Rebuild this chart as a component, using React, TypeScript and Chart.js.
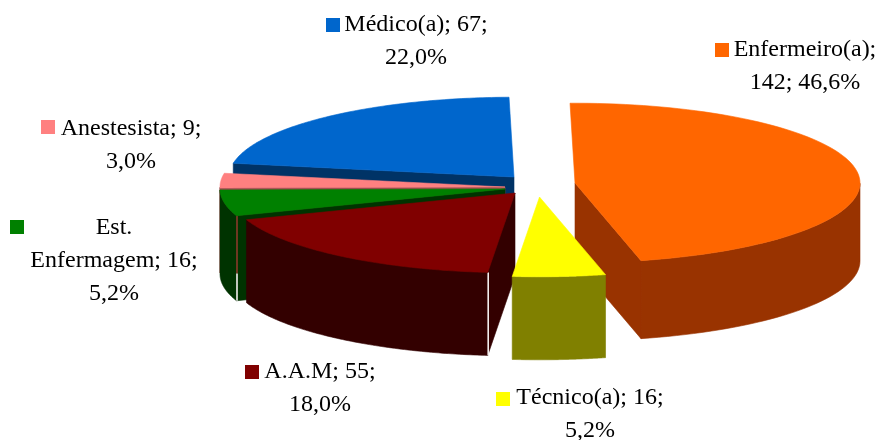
import React, { useEffect, useRef } from "react";
import { Chart, registerables } from "chart.js";

Chart.register(...registerables);

// Staff counts per role
const categories = ["Enfermeiro(a)", "Técnico(a)", "A.A.M", "Est. Enfermagem", "Anestesista", "Médico(a)"];
const counts = [142, 16, 55, 16, 9, 67];

// Slice colours: top face and side wall
const topColors = ["#FF6600", "#FFFF00", "#800000", "#008000", "#FF8080", "#0066CC"];
const wallColors = ["#993300", "#808000", "#330000", "#003300", "#994D4D", "#003366"];

// Exploded slice placement relative to the pie centre, and extrusion depth
const shiftX = [135.5, 100, 75.5, 65.5, 65.5, 74.5];
const shiftY = [-37, -23, -27, -31, -33, -43];
const depths = [78, 83, 83, 85, 85, 78];
const paintOrder = [5, 4, 3, 2, 0, 1];
const TILT = 0.28;
const RADIUS = 285;
const ARC_STEPS = 90;
const FACING_LIMIT = 0.05;

// Thin seams on the front of some slices: [slice, share of depth, colour]
const seams: [number, number, number, string][] = [
  [2, 0, 1, "#F2ECEC"],
  [3, 0, 0.68, "#8A3A2A"],
  [3, 0.68, 1, "#F2ECEC"],
];

// Label layout: centre x, first line y, swatch position
const labelX = [805, 590, 320, 114, 131, 416];
const labelY = [50, 398, 372, 228, 129, 25];
const swatchX = [715, 496, 245, 10, 41, 326];
const swatchY = [43, 392, 365, 220, 120, 18];
const LINE_HEIGHT = 33;
const SWATCH = 14;

type Pt = [number, number];

const total = counts.reduce((a, b) => a + b, 0);
const percent = (v: number) => ((v / total) * 100).toFixed(1).replace(".", ",") + "%";

function labelLines(i: number): string[] {
  const v = counts[i];
  const name = categories[i];
  if (i === 0) return [`${name};`, `${v}; ${percent(v)}`];
  if (i === 3) return ["Est.", `Enfermagem; ${v};`, percent(v)];
  return [`${name}; ${v};`, percent(v)];
}

function fillPolygon(ctx: CanvasRenderingContext2D, pts: Pt[], color: string) {
  ctx.beginPath();
  pts.forEach(([x, y], k) => (k ? ctx.lineTo(x, y) : ctx.moveTo(x, y)));
  ctx.closePath();
  ctx.fillStyle = color;
  ctx.strokeStyle = color;
  ctx.lineWidth = 0.6;
  ctx.fill();
  ctx.stroke();
}

const lowered = (pts: Pt[], d: number): Pt[] => pts.map(([x, y]) => [x, y + d] as Pt);

// Replaces the flat arcs with tilted, extruded slices using the angles the controller computed
const extrudedPie = {
  id: "extrudedPie",
  beforeDatasetsDraw(chart: any) {
    const ctx: CanvasRenderingContext2D = chart.ctx;
    const arcs = chart.getDatasetMeta(0).data;
    ctx.save();
    for (const i of paintOrder) {
      const arc = arcs[i];
      const d = depths[i];
      const cx = arc.x + shiftX[i];
      const cy = arc.y + shiftY[i];
      const at = (a: number): Pt => [
        cx + arc.outerRadius * Math.cos(a),
        cy + arc.outerRadius * TILT * Math.sin(a),
      ];
      const centre: Pt = [cx, cy];
      const start = at(arc.startAngle);
      const end = at(arc.endAngle);
      const rim: Pt[] = [];
      const frontRim: Pt[] = [];
      for (let s = 0; s <= ARC_STEPS; s++) {
        const a = arc.startAngle + ((arc.endAngle - arc.startAngle) * s) / ARC_STEPS;
        rim.push(at(a));
        if (Math.sin(a) >= 0) frontRim.push(at(a));
      }

      // Radial walls, only where they face the viewer
      if (Math.cos(arc.startAngle) < -FACING_LIMIT) {
        fillPolygon(ctx, [centre, start, ...lowered([start, centre], d)], wallColors[i]);
      }
      if (Math.cos(arc.endAngle) > FACING_LIMIT) {
        fillPolygon(ctx, [centre, end, ...lowered([end, centre], d)], wallColors[i]);
      }
      // Curved outer wall
      if (frontRim.length > 1) {
        fillPolygon(ctx, [...frontRim, ...lowered(frontRim, d).reverse()], wallColors[i]);
      }
      for (const [slice, from, to, color] of seams) {
        if (slice !== i) continue;
        ctx.beginPath();
        ctx.moveTo(start[0] + 0.5, start[1] + d * from);
        ctx.lineTo(start[0] + 0.5, start[1] + d * to);
        ctx.strokeStyle = color;
        ctx.lineWidth = 1.6;
        ctx.stroke();
      }
      fillPolygon(ctx, [centre, ...rim], topColors[i]);
    }
    ctx.restore();
    return false;
  },
  afterDraw(chart: any) {
    const ctx: CanvasRenderingContext2D = chart.ctx;
    ctx.save();
    ctx.font = '24px "Liberation Serif"';
    ctx.textAlign = "center";
    ctx.textBaseline = "middle";
    categories.forEach((_, i) => {
      ctx.fillStyle = topColors[i];
      ctx.fillRect(swatchX[i], swatchY[i], SWATCH, SWATCH);
      ctx.fillStyle = "#000000";
      labelLines(i).forEach((line, k) => ctx.fillText(line, labelX[i], labelY[i] + k * LINE_HEIGHT));
    });
    ctx.restore();
  },
};

export default function App() {
  const ref = useRef<HTMLCanvasElement>(null);
  useEffect(() => {
    const chart = new Chart(ref.current!, {
      type: "pie",
      data: {
        labels: categories,
        datasets: [{ data: counts, backgroundColor: topColors, borderWidth: 0 }],
      },
      options: {
        responsive: false,
        animation: false,
        radius: RADIUS,
        rotation: -1,
        layout: { padding: 0 },
        plugins: { legend: { display: false }, tooltip: { enabled: false } },
      },
      plugins: [extrudedPie],
    } as any);
    return () => chart.destroy();
  }, []);
  return (
    <div style={{ position: "absolute", left: 0, top: 0, width: 879, height: 440, background: "#fff" }}>
      <canvas ref={ref} width={879} height={440} style={{ display: "block" }} />
    </div>
  );
}
